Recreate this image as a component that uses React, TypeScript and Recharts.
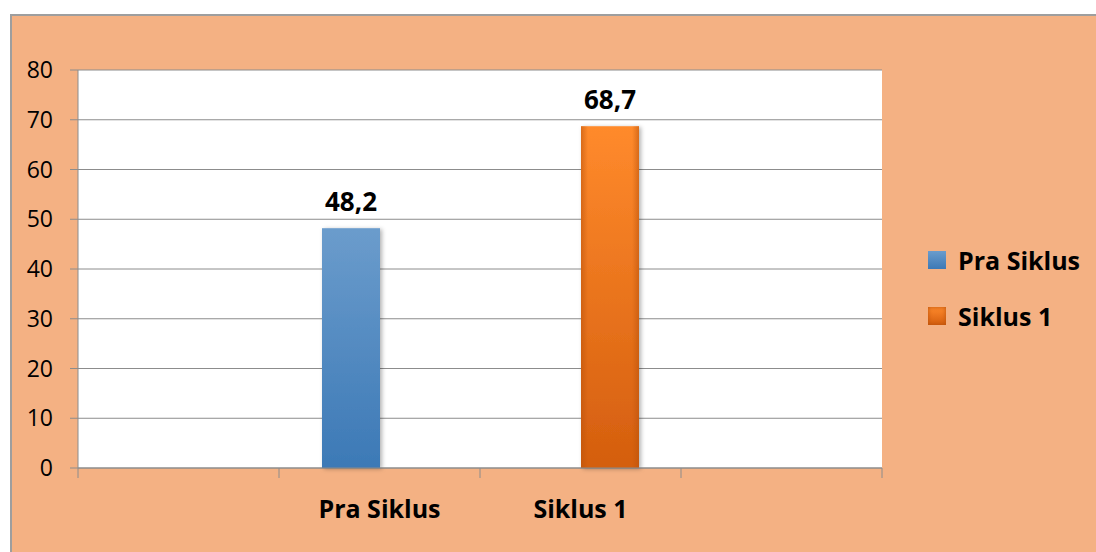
import React from 'react'
import {
  BarChart,
  Bar,
  XAxis,
  YAxis,
  CartesianGrid,
  LabelList,
} from 'recharts'

// categories (first and last slot are empty, as in the original sheet)
const CATEGORIES = ['', 'Pra Siklus', 'Siklus 1', '']
const PRA_SIKLUS = [null, 48.2, null, null]
const SIKLUS_1 = [null, null, 68.7, null]
const Y_TICKS = [0, 10, 20, 30, 40, 50, 60, 70, 80]

const SERIES = [
  { key: 'pra', name: 'Pra Siklus', top: '#6B9CCC', bottom: '#3C79B6', edge: '#3A6EA5' },
  { key: 'siklus', name: 'Siklus 1', top: '#FF8A2C', bottom: '#D45E0E', edge: '#B9520C' },
]

const data = CATEGORIES.map((name, i) => ({
  name,
  pra: PRA_SIKLUS[i],
  siklus: SIKLUS_1[i],
}))

const W = 1096
const H = 552
const PLOT_LEFT = 78
const PLOT_RIGHT = 882
const BAND = (PLOT_RIGHT - PLOT_LEFT) / CATEGORIES.length
const FONT = '"Open Sans", Lato, sans-serif'

const makeShape = (s: (typeof SERIES)[number]) => (props: any) => {
  const { x, y, width, height } = props
  if (!height || height <= 0) return null
  const id = `g-${s.key}`
  return (
    <g>
      <defs>
        <linearGradient id={`${id}-v`} x1="0" y1="0" x2="0" y2="1">
          <stop offset="0%" stopColor={s.top} />
          <stop offset="100%" stopColor={s.bottom} />
        </linearGradient>
        <linearGradient id={`${id}-h`} x1="0" y1="0" x2="1" y2="0">
          <stop offset="0%" stopColor={s.edge} stopOpacity={0.55} />
          <stop offset="12%" stopColor={s.edge} stopOpacity={0} />
          <stop offset="88%" stopColor={s.edge} stopOpacity={0} />
          <stop offset="100%" stopColor={s.edge} stopOpacity={0.55} />
        </linearGradient>
        <filter id={`${id}-sh`} x="-30%" y="-10%" width="160%" height="120%">
          <feDropShadow dx="2" dy="1" stdDeviation="2" floodColor="#000" floodOpacity="0.3" />
        </filter>
      </defs>
      <rect x={x} y={y} width={width} height={height} fill={`url(#${id}-v)`} filter={`url(#${id}-sh)`} />
      {s.key === 'siklus' && (
        <rect x={x} y={y} width={width} height={height} fill={`url(#${id}-h)`} />
      )}
    </g>
  )
}

const XTick = (props: any) => {
  const { x, y, payload, index } = props
  const left = x - BAND / 2
  return (
    <g>
      <line x1={left} y1={y} x2={left} y2={y + 10} stroke="#8C8C8C" />
      {index === CATEGORIES.length - 1 && (
        <line x1={x + BAND / 2} y1={y} x2={x + BAND / 2} y2={y + 10} stroke="#8C8C8C" />
      )}
      <text
        x={x}
        y={y + 50}
        textAnchor="middle"
        fontFamily={FONT}
        fontWeight="bold"
        fontSize={25}
        fill="#000"
      >
        {payload.value}
      </text>
    </g>
  )
}

const ValueLabel = (props: any) => {
  const { x, y, width, value } = props
  if (value == null) return null
  return (
    <text
      x={x + width / 2}
      y={y - 17}
      textAnchor="middle"
      fontFamily={FONT}
      fontWeight="bold"
      fontSize={26}
      fill="#000"
    >
      {String(value).replace('.', ',')}
    </text>
  )
}

const LegendBox = () => (
  <div style={{ position: 'absolute', left: 928, top: 232, fontFamily: FONT }}>
    {SERIES.map((s) => (
      <div key={s.key} style={{ display: 'flex', alignItems: 'center', height: 56 }}>
        <div
          style={{
            width: 18,
            height: 18,
            marginRight: 12,
            background: `linear-gradient(${s.top}, ${s.bottom})`,
            boxShadow: s.key === 'siklus' ? `inset 0 0 4px ${s.edge}` : 'none',
          }}
        />
        <span style={{ fontSize: 25, fontWeight: 'bold', color: '#000', whiteSpace: 'nowrap' }}>{s.name}</span>
      </div>
    ))}
  </div>
)

export default function App() {
  return (
    <div style={{ position: 'absolute', left: 0, top: 0, width: W, height: H, overflow: 'hidden', background: '#fff' }}>
      <div
        style={{
          position: 'absolute',
          left: 10,
          top: 14,
          width: W,
          height: H,
          background: '#F4B183',
          borderTop: '2px solid #9E9E9E',
          borderLeft: '2px solid #9E9E9E',
        }}
      />
      <div style={{ position: 'absolute', left: 0, top: 0 }}>
        <BarChart
          width={W}
          height={H}
          data={data}
          margin={{ top: 70, right: W - PLOT_RIGHT, bottom: 24, left: 18 }}
          barGap={0}
        >
          <CartesianGrid vertical={false} stroke="#8C8C8C" fill="#fff" />
          <XAxis
            dataKey="name"
            interval={0}
            tickSize={0}
            tickMargin={0}
            tickLine={false}
            axisLine={{ stroke: '#8C8C8C' }}
            tick={<XTick />}
            height={60}
          />
          <YAxis
            domain={[0, 80]}
            ticks={Y_TICKS}
            width={60}
            tickSize={8}
            tickMargin={17}
            axisLine={{ stroke: '#8C8C8C' }}
            tickLine={{ stroke: '#8C8C8C' }}
            tick={{ fill: '#000', fontSize: 23, fontFamily: FONT }}
            interval={0}
          />
          {SERIES.map((s) => (
            <Bar
              key={s.key}
              dataKey={s.key}
              name={s.name}
              barSize={58}
              fill={s.bottom}
              shape={makeShape(s)}
              isAnimationActive={false}
            >
              <LabelList dataKey={s.key} content={<ValueLabel />} />
            </Bar>
          ))}
        </BarChart>
      </div>
      <LegendBox />
    </div>
  )
}
